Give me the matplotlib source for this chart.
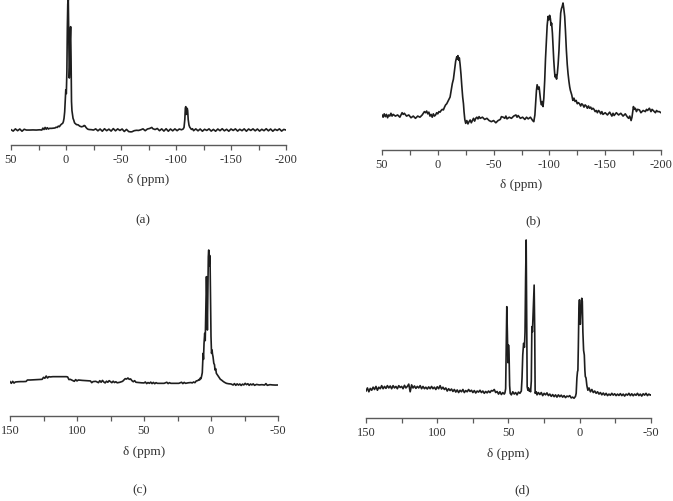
import matplotlib
matplotlib.use("Agg")
import matplotlib.pyplot as plt
from matplotlib.ticker import MultipleLocator

plt.rcParams["font.family"] = ["Liberation Serif", "DejaVu Serif"]
plt.rcParams["axes.unicode_minus"] = False

# (a) chemical shift (ppm) and relative intensity
a_ppm = [50, 48, 46, 44, 42, 40, 38, 36, 33, 30, 27, 24, 22, 21, 20, 19, 18, 17, 16, 15,
         13, 11, 10, 9, 8, 7, 6, 5, 4, 3, 2.4, 1.8, 1.2, 0.6, 0.2, -0.3, -0.8, -1.2, -1.6,
         -2.1, -2.6, -3.0, -3.4, -3.8, -4.2, -4.6, -5.0, -5.4, -5.9, -6.4, -7, -7.8, -8.5,
         -9.5, -11, -12.5, -14, -15.5, -16.5, -17.3, -18, -19, -20, -21, -23, -25,
         -27, -29, -31, -33, -35, -37, -39, -41, -43, -45, -47, -49, -51, -53, -55, -57,
         -59, -60, -62, -64, -66, -68, -70, -72, -74, -76, -78, -79, -81, -83, -85, -87,
         -89, -91, -93, -95, -97, -99, -101, -103, -105, -106.5, -107.3, -108, -108.5,
         -108.9, -109.3, -109.7, -110.2, -110.6, -111.1, -111.8, -112.5, -113.3, -114,
         -115, -116, -118, -120, -122, -124, -126, -128, -130, -132, -134, -136, -138,
         -140, -142, -144, -146, -148, -150, -152, -154, -156, -158, -160, -162, -164,
         -166, -168, -170, -172, -174, -176, -178, -180, -182, -184, -186, -188, -190,
         -192, -194, -196, -198, -200]
a_int = [0.3, -0.8, 0.9, -0.5, 0.8, -0.9, 0.6, 0, 0, 0.1, 0, 0.2, 0, 1.5, 0.4, 2.0, 0.6, 1.8, 0.8, 1.3,
         1.3, 1.5, 1.6, 2.2, 2.0, 3.0, 2.6, 3.8, 4.6, 5.2, 6.4, 9, 14, 24, 31, 28, 45, 78, 97,
         100, 70, 40, 48, 70, 79.5, 55, 22, 15, 12, 9, 7.7, 5.5, 5,
         4.2, 4, 3, 2.5, 2.8, 3.5, 3.2, 2.2, 1.2, 0.6, 0.4, 0.3, 0,
         0.9, -0.6, 0.8, -0.9, 1.0, -0.5, 0.7, -0.8, 1.1, -0.6, 0.9, -0.3, 0.8, -1.1, 0.5, -1.2,
         -1.4, -1.3, -0.5, -0.2, -0.3, 0.2, 0.9, -0.5, 0.8, 1.2, 2.0, 1.0, 0.4, 1.2, -0.5, 0.9,
         -0.8, 1.0, -0.9, 0.8, -0.6, 0.9, -0.5, 0.8, 0.2, 0.8, 2, 8, 17,
         18, 12, 13, 16.7, 15, 8, 3.8, 2.2, 1.3, 0.5,
         1.0, -0.5, 0.9, -0.6, 0.8, -0.9, 0.6, -0.3, 0.9, -0.8, 0.5, -0.9, 0.8,
         -0.5, 1.0, -0.6, 0.6, -0.9, 0.8, -0.3, 0.9, -0.8, 0.6, -0.5, 0.9, -0.9,
         0.8, -0.3, 0.9, -0.6, 0.8, -0.8, 0.6, -0.5, 1.0, -0.6, 0.8, -0.9, 0.6,
         -0.3, 0.9, -0.8, 0.5, 0]

# (b)
b_ppm = [50, 49, 48, 47, 46, 45, 44, 43, 42, 41, 40, 38, 36, 34, 32, 31, 30, 28, 26, 24,
         22, 20, 18, 16, 14, 13, 12, 11, 10, 9, 8, 7, 6, 5, 4, 3, 2, 1, 0, -1, -2, -3, -4,
         -5, -6, -7, -8, -9, -10, -11, -12, -13, -14, -15, -15.5, -16, -17, -17.5, -18,
         -18.7, -19.3, -20, -20.8, -21.5, -22.3, -23, -23.5, -24.2, -25, -26, -27, -28,
         -29, -30, -31, -32, -33, -34, -35, -36, -37, -38, -40, -42, -44, -46, -48, -50,
         -52, -54, -56, -57, -58.6, -60, -61, -62, -64, -66, -68, -70, -71, -72, -74, -76,
         -78, -79.5, -81, -83, -85, -86, -87, -88, -88.4, -89, -90, -90.8, -91.5, -92.2,
         -92.9, -93.5, -94.3, -95, -95.8, -96.5, -97.3, -98, -98.8, -99.5, -100.2, -100.9,
         -101.5, -102, -102.7, -103.3, -103.9, -104.5, -105, -105.7, -106.4, -107.1,
         -107.8, -108.6, -109.3, -110.1, -110.8, -111.5, -112.2, -112.9, -113.7, -114.4,
         -115.2, -116, -116.7, -117.5, -118.2, -118.8, -120, -121, -122, -123, -124, -125,
         -126, -127, -128, -129, -130, -131, -132, -133, -134, -135, -136, -137, -138,
         -139, -140, -141, -142, -143, -144, -145, -146, -147, -148, -150, -152, -154,
         -156, -157, -158, -160, -162, -164, -166, -168, -170, -171, -172, -173.2, -174,
         -175.3, -176, -177, -178, -179, -180.7, -182, -184, -186, -187, -188, -189.6,
         -191, -192, -193, -195, -196, -197, -198.5, -200]
b_int = [0, -2, 1, -1.5, 0.5, -2.5, 0, -1, 1.5, -1, 0.5, -1, 0, -2, 2, 0.5, 1.5, -1, 0, -2.5,
         -1, -3, -1, -2, 0, 1.5, 3, 2, 3.5, 1, 2.5, -1, 0.5, -2, 1, -1, 0, 2, 1, 3, 2.5, 4, 5,
         4.5, 7, 9, 10, 12, 14, 16, 22, 28, 32, 40, 44, 48, 52, 50, 53,
         49, 51, 45, 36, 26, 16, 10, 3, -4, -7.5, -5, -8, -6,
         -4.5, -7, -5, -3, -5.5, -3, -2, -3.5, -1.5, -3, -2, -4, -3, -5, -6, -5,
         -7, -5, -4, -1.5, -2, -3, -1, -3.5, -2, -3, -1, 0, -2, -0.5, -3, -2,
         -4, -2, -3.5, -2, -5, -6, 0, 15, 22, 27, 23, 25, 18, 12,
         9, 12, 7.5, 15, 31, 50, 67, 80, 88, 85, 89, 86,
         80, 82, 73, 60, 49, 40, 34, 36, 32, 37,
         45, 58, 75, 91, 95, 97, 100, 95, 88, 75,
         58, 45, 37, 30, 25, 22, 18, 13, 15, 12, 13, 10,
         11, 10, 8, 10, 9, 7, 9, 8, 6, 8, 6, 7, 5,
         6, 5, 3, 4, 2, 4, 3, 1, 3, 0.5, 2, 0, 2.5,
         -1, 1.5, -0.5, 2, 0, 1.5, -1, 1, -2, -3, -1, -5, -2,
         7.5, 5, 6, 3, 5, 4.5, 2, 4, 3, 5, 4, 6,
         3, 5, 4, 2, 4, 3, 3, 2]

# (c)
c_ppm = [150, 149, 148, 147, 146, 144, 142, 140, 138, 137, 135, 130, 126, 125, 124, 123,
         122, 121, 120, 118, 115, 112, 110, 108, 107, 106, 105, 104, 102, 101, 100, 99,
         96, 93, 90, 89, 88, 86, 84, 83, 82, 81, 80, 79, 78, 77, 76, 75, 74, 73, 72, 71,
         70, 68, 66, 65, 64, 63, 62, 61, 60, 59, 58, 57, 56, 54, 52, 50, 49, 48, 47, 46,
         45, 44, 43, 42, 41, 40, 38, 35, 33, 32, 31, 30, 27, 24, 22, 21, 20, 19, 17, 15,
         14, 13, 12, 11, 10, 9, 8.5, 8, 7.5, 7.1, 6.5, 6.2, 5.9, 5.6, 5.2, 4.7, 4.3, 3.9,
         3.4, 3.0, 2.7, 2.3, 2.0, 1.7, 1.4, 1.0, 0.7, 0.3, 0, -0.4, -0.8, -1.1, -1.5,
         -2.1, -2.6, -3, -3.5, -4, -5, -6, -7, -7.8, -9, -10, -11.5, -13, -15, -16.5,
         -17.5, -18.5, -19.5, -20.5, -21.5, -22.5, -23.5, -24.5, -25.5, -26.5, -27.5,
         -28.5, -29.5, -30.5, -31.5, -32.5, -34, -36, -38, -40, -41, -42, -44, -46, -48,
         -50]
c_int = [1.25, 0, 1.5, 0.2, 1, 1.2, 1.3, 1.3, 1.4, 2.5, 2.5, 2.8, 3, 4.5, 3.8, 5.5,
         4, 5, 4.8, 5, 5, 5, 5, 5, 4.8, 2.8, 3, 2.5, 1.5, 2.8, 1.8, 2.5,
         2.2, 2, 1.8, 0.5, 1.3, 1.5, 0.5, 2, 0.8, 2.2, 1, 0.3, 1.6, 0.8, 2, 1.2, 0.5, 1.6, 0.6, 1.2,
         0.4, 0.8, 1.5, 2.5, 3.5, 3.2, 4, 3, 3.3, 2, 1.2, 2, 0.8, 0.6, 0.4, 0.3, 1.0, -0.2, 0.6, 0,
         0.9, -0.2, 0.7, -0.3, 0.5, 0, 0, 0, 0.8, -0.2, 0.5, 0, 0, 0, 0.8, -0.2, 0.7, 0, 0.4, 0.6,
         0.3, 1.0, 0.5, 1.8, 2, 2.8, 2.5, 4, 3.5, 5, 8, 15, 22.5, 18, 30, 37.5, 32, 55,
         80, 62, 40, 75, 95, 100, 88, 96, 92, 60, 35, 22.5, 25, 22, 20,
         15, 14, 10, 11, 7.5, 6, 4.5, 3, 2.5, 1.5, 0.8, 0, -0.3, -0.5, -1.25,
         -0.2, -1.5, -0.4, -1.3, -0.5, -1.6, -0.6, -1.2, 0, -1, -0.3,
         -1.5, -0.5, -1.2, -0.4, -1.5, -0.8, -1.2, -1, -1.3, -0.2, -1.5, -1, -1.2, -1.3,
         -1.25]

# (d)
d_ppm = [150, 149, 148, 147, 146, 145, 144, 143, 142, 141, 140, 139, 138, 137, 136, 135,
         134, 133, 132, 131, 130, 129, 128, 127, 126, 125, 124, 123, 122, 121, 120, 119,
         118, 117, 116, 115, 114, 113, 112, 111, 110, 109, 108, 107, 106, 105, 104, 103,
         102, 101, 100, 99, 98, 97, 96, 95, 94, 93, 92, 91, 90, 89, 88, 87, 86, 85, 84,
         83, 82, 81, 80, 79, 78, 77, 76, 75, 74, 73, 72, 71, 70, 69, 68, 67, 66, 65, 64,
         63, 62, 61, 60, 59, 58, 57, 56, 55, 54, 53, 52.5, 52, 51.6, 51.2, 50.8, 50.4, 50,
         49.6, 49.2, 48.8, 48, 47, 46, 45, 44, 43, 42, 41, 40.5, 40, 39.4, 38.8, 38.4, 38,
         37.6, 37.3, 36.9, 36.4, 36, 35.5, 35, 34.5, 34, 33.6, 33.2, 32.6, 32, 31.6, 31.3,
         30.5, 30, 29, 28, 27, 26, 25, 24, 23, 22, 21, 20, 19, 18, 17, 16, 15, 14, 13, 12,
         11, 10, 9, 8, 7, 6, 5, 4, 3, 2.5, 2, 1.6, 1.3, 1, 0.6, 0.2, -0.4, -0.9, -1.4,
         -1.8, -2.2, -2.7, -3.2, -3.6, -3.9, -4.4, -5, -5.7, -6.5, -7.5, -8.5, -9.5,
         -10.5, -11.5, -12.5, -13.5, -14.5, -15.5, -16.5, -17.5, -18.5, -19.5, -20.5,
         -21.5, -22.5, -23.5, -24.5, -25.5, -26.5, -27.5, -28.5, -29.5, -30.5, -31.5,
         -32.5, -33.5, -34.5, -35.5, -36.5, -37.5, -38.5, -39.5, -40.5, -41.5, -42.5,
         -43.5, -44.5, -45.5, -46.5, -47.5, -48.5, -49.5, -50]
d_int = [1.5, 3.5, 1, 3.2, 2, 4, 2.5, 4.5, 2, 4, 3, 5, 3, 4.5, 3.2, 5,
         3.5, 4.8, 3, 5, 3.5, 4.5, 3, 5, 3.8, 4.5, 3, 5.2, 3.5, 4.5, 6, 1,
         5.5, 3.5, 4.8, 3.2, 4.5, 3.5, 5, 3, 4.5, 3, 4, 2.8, 4.2, 3, 4.5, 3,
         4, 2.5, 4.3, 3, 5, 2.8, 4, 2.5, 3.5, 1.5, 3, 1.8, 2.8, 1.2, 2.5, 0.8, 2.2, 0.5, 2,
         1, 2.5, 0.5, 1.8, 1, 2.5, 1.2, 2, 0.5, 1.8, 0.2, 1.5, 0.8, 2, 0.5, 1.5, 0, 1.2, 0.3, 1.5,
         0.5, 1.8, 1.5, 2.5, 0.5, 1.2, -0.5, 1, -0.8, 0.5, -0.5, 0.3, 3, 30, 56.5, 40, 20, 31.5,
         25, 5, 0, -1, 1, -0.5, 0.5, -1, 0.8, 0, 1.5, 10, 25, 32.6, 30, 40, 75,
         100, 60, 4.3, 2, 3.5, 1.5, 2.5, 1, 8, 43.5, 40, 55, 70.6, 40, 0,
         1, -1, 0.5, -0.8, 0.5, -1.5, 0, -1, 0.3, -1.5, -0.5, -2, -0.8, -2.2, -1, -2.5, -1, -2.2, -1.2, -2.5,
         -1.5, -2.8, -1.8, -2.2, -1.5, -3, -2.5, -3.2, -2, 0, 10, 14, 15, 30, 55, 61, 45, 55, 62,
         60, 40, 28, 25, 15, 11, 10, 5, 2, 3.5, 1, 2.5, 0.5,
         1.5, 0, 1, -0.5, 0.5, -1, 0.2, -1.2, 0, -1.5, -0.5,
         -1.3, 0, -1.2, -0.3, -1.5, -0.5, -1.4, -0.2, -1.5, -0.5, -1.8,
         -0.5, -1.2, 0, -1.5, -0.3, -1.6, -0.5, -1.3, 0, -1.5, -0.5,
         -1.8, -0.3, -1.2, 0, -1.5, -0.5, -1.2, -1]

W, H = 673, 501
fig = plt.figure(figsize=(W / 100, H / 100), dpi=100)
fig.patch.set_facecolor("white")

# box in pixels (left, top, right, bottom), x range, y range, tag, tag position
panels = [
    (a_ppm, a_int, (11, 0, 286, 145), (50, -200), (-11.5, 100), "(a)", (143, 220)),
    (b_ppm, b_int, (382, 0, 661, 150), (50, -200), (-31.3, 102.7), "(b)", (533, 221)),
    (c_ppm, c_int, (10, 248, 278, 416), (150, -50), (-24.5, 101.5), "(c)", (140, 490)),
    (d_ppm, d_int, (366, 238, 651, 418), (150, -50), (-16.1, 101.3), "(d)", (522, 490)),
]

for ppm, inten, box, xr, yr, tag, tpos in panels:
    l, t, r, b = box
    ax = fig.add_axes([l / W, 1 - b / H, (r - l) / W, (b - t) / H])
    ax.patch.set_alpha(0)
    ax.plot(ppm, inten, color="#1e1e1e", lw=1.2)
    ax.set_xlim(*xr)
    ax.set_ylim(*yr)
    for s in ["top", "left", "right"]:
        ax.spines[s].set_visible(False)
    ax.spines["bottom"].set_color("#5a5a5a")
    ax.spines["bottom"].set_linewidth(1.0)
    ax.set_yticks([])
    ax.xaxis.set_major_locator(MultipleLocator(50))
    ax.xaxis.set_minor_locator(MultipleLocator(25))
    ax.tick_params(axis="x", which="both", direction="out", length=3.6, width=0.9,
                   color="#5a5a5a", labelsize=9, labelcolor="#333333", pad=3)
    ax.set_xlabel("δ (ppm)", fontsize=9.5, color="#333333", labelpad=6)
    fig.text(tpos[0] / W, 1 - tpos[1] / H, tag, ha="center", va="center",
             fontsize=9.5, color="#333333")

fig.savefig("out.png", dpi=100, facecolor="white")
